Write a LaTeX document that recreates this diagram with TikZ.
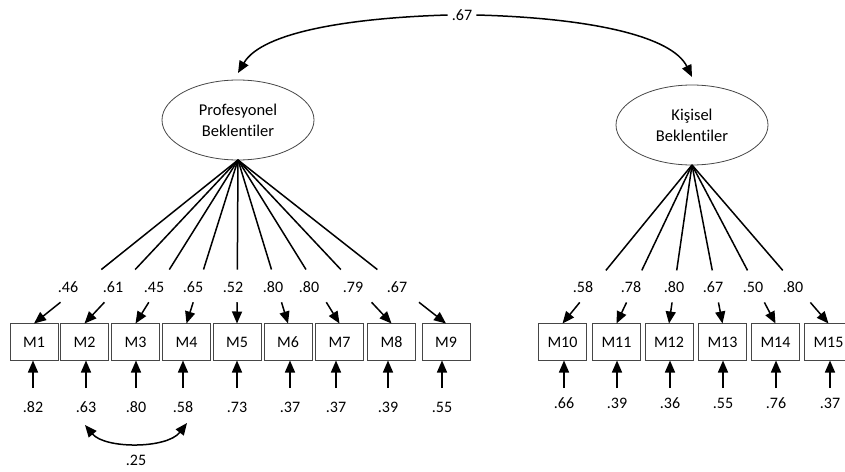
\documentclass[tikz,border=0pt]{standalone}
\usepackage{fontspec}
\setmainfont{Carlito}[Ligatures=NoCommon]
\usetikzlibrary{arrows.meta,shapes.geometric,calc}
\tikzset{
  latent/.style={ellipse, draw=gray!55!black, line width=0.8pt, minimum width=152pt, minimum height=80pt,
    align=center, inner sep=0pt, outer sep=0pt, font=\fontsize{16.5}{21}\selectfont},
  obs/.style={draw=gray!55!black, line width=1pt, minimum width=48pt, minimum height=37pt,
    inner sep=0pt, outer sep=0pt, font=\fontsize{16}{18}\selectfont},
  lbl/.style={inner sep=0pt, font=\fontsize{16}{18}\selectfont},
  con/.style={line width=1.5pt, black},
  arr/.style={con, -{Triangle[length=12pt,width=10pt]}},
  arrb/.style={con, {Triangle[length=12pt,width=10pt]}-{Triangle[length=12pt,width=10pt]}}
}
\begin{document}
\begin{tikzpicture}[x=1pt,y=-1pt]
\useasboundingbox (0,0) rectangle (845,471);
\clip (0,0) rectangle (845,471);
% latent variables
\node[latent] (PB) at (238,120) {Profesyonel\\Beklentiler};
\node[latent] (KB) at (692,125) {Kişisel\\Beklentiler};
% covariance between latents
\node[lbl] (C) at (462,15) {.67};
\coordinate (PBt) at ($(PB.north)+(0,-7)$);
\coordinate (KBt) at ($(KB.north)+(0,-8)$);
\draw[arr] ([xshift=-4pt]C.west) .. controls (350,18) and (262,32) .. (PBt);
\draw[arr] ([xshift=4pt]C.east) .. controls (590,18) and (672,36) .. (KBt);
% observed variables, left factor
\foreach \i/\x/\lx/\v/\ex/\ev in {1/34/68/.46/33/.82, 2/84.5/113/.61/86/.63, 3/135.5/154/.45/136/.80,
  4/186.5/193/.65/183/.58, 5/237/233/.52/237/.73, 6/288/273/.80/290/.37, 7/339.5/309/.80/336/.37,
  8/391.5/353/.79/388/.39, 9/446/397/.67/442/.55}{
  \node[obs] (M\i) at (\x,342) {M\i};
  \draw[con] (PB.south) -- ($(PB.south)!0.67!(M\i.north)$);
  \draw[arr] ($(PB.south)!0.87!(M\i.north)$) -- (M\i.north);
  \node[lbl] (L\i) at (\lx,287) {\v};
  \node[lbl] (E\i) at (\ex,407) {\ev};
  \draw[arr] ($(E\i)+(0,-19)$) -- (E\i |- M\i.south);
}
% observed variables, right factor
\foreach \i/\x/\lx/\v/\ex/\ev in {10/562.5/583/.58/564/.66, 11/616.5/631/.78/617/.39, 12/669/674/.80/670/.36,
  13/722.5/713/.67/723/.55, 14/775.5/753/.50/776/.76, 15/828.5/793/.80/830/.37}{
  \node[obs] (M\i) at (\x,342) {M\i};
  \draw[con] (KB.south) -- ($(KB.south)!0.665!(M\i.north)$);
  \draw[arr] ($(KB.south)!0.867!(M\i.north)$) -- (M\i.north);
  \node[lbl] (L\i) at (\lx,287) {\v};
  \node[lbl] (E\i) at (\ex,403) {\ev};
  \draw[arr] ($(E\i)+(0,-15)$) -- (E\i |- M\i.south);
}
% error covariance
\coordinate (c2) at ($(E2)+(-1,18)$);
\coordinate (c4) at ($(E4)+(4,16)$);
\draw[arrb] (c2) .. controls (105,449) and (167,449) .. (c4);
\node[lbl] (R) at (136,460) {.25};
\end{tikzpicture}
\end{document}
